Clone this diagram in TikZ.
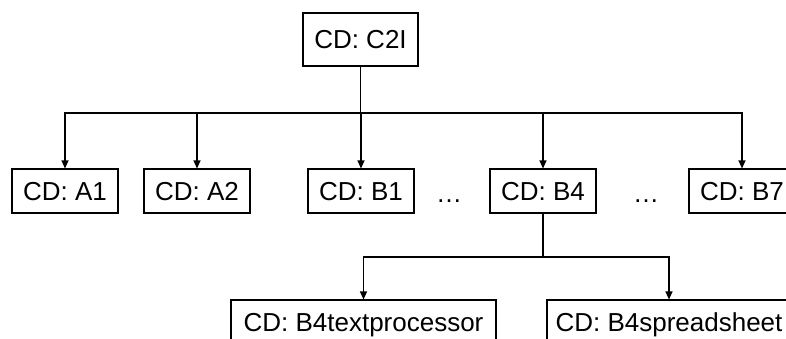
\documentclass[tikz,border=0pt]{standalone}
\usepackage{fontspec}
\setmainfont{Liberation Sans}
\usetikzlibrary{arrows.meta}
\tikzset{
  cdbox/.style={draw=black, line width=1.1pt, inner sep=0pt, minimum height=44pt,
    text height=18.5pt, text depth=0pt, font=\fontsize{26}{31}\selectfont, align=center},
  conn/.style={line width=1.1pt, draw=black},
  arr/.style={conn, -{Triangle[length=8pt,width=7pt]}},
  dotsnode/.style={inner sep=0pt, anchor=base, font=\fontsize{26}{31}\selectfont}
}
\begin{document}
\begin{tikzpicture}[x=1pt,y=1pt]
  \useasboundingbox (0,0) rectangle (786,338);
  \clip (0,0) rectangle (786,338);
  \node[cdbox, minimum width=115pt, minimum height=53pt] (top) at (360.5,298.5) {CD: C2I};
  \node[cdbox, minimum width=106pt] (a1) at (65,147) {CD: A1};
  \node[cdbox, minimum width=106pt] (a2) at (197,147) {CD: A2};
  \node[cdbox, minimum width=106pt] (b1) at (361,147) {CD: B1};
  \node[cdbox, minimum width=106pt] (b4) at (543,147) {CD: B4};
  \node[cdbox, minimum width=106pt] (b7) at (742,147) {CD: B7};
  \node[dotsnode] (d1) at (449,136) {\dots};
  \node[dotsnode] (d2) at (646,136) {\dots};
  \node[cdbox, minimum width=265pt] (b4t) at (363.5,16) {CD: B4textprocessor};
  \node[cdbox, minimum width=244pt] (b4s) at (669,16) {CD: B4spreadsheet};
  \coordinate (bus) at (360.5,225);
  \coordinate (bus2) at (543,81);
  \draw[conn] (top.south) -- (bus);
  \foreach \c in {a1,a2,b1,b4,b7} { \draw[arr] (bus) -| (\c.north); }
  \draw[conn] (b4.south) -- (bus2);
  \draw[arr] (bus2) -| (b4t.north);
  \draw[arr] (bus2) -| (b4s.north);
\end{tikzpicture}
\end{document}
